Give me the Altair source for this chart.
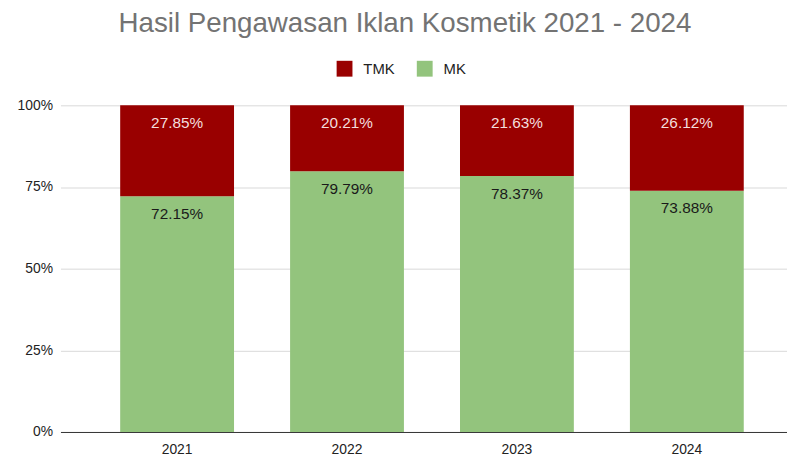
import altair as alt
import pandas as pd

years = ["2021", "2022", "2023", "2024"]
mk = [0.7215, 0.7979, 0.7837, 0.7388]
tmk = [0.2785, 0.2021, 0.2163, 0.2612]
series = ["TMK", "MK"]
colors = ["#990000", "#93c47d"]

rows = []
for i, y in enumerate(years):
    rows.append({"year": y, "cat": "MK", "value": mk[i], "ord": 0})
    rows.append({"year": y, "cat": "TMK", "value": tmk[i], "ord": 1})
df = pd.DataFrame(rows)

FONT = "Liberation Sans"

base = alt.Chart(df).transform_stack(
    stack="value", groupby=["year"], as_=["v0", "v1"], sort=[alt.SortField("ord", order="ascending")]
)

xscale = alt.Scale(paddingInner=0.33, paddingOuter=0.303, align=0.58)

bars = base.mark_bar().encode(
    x=alt.X("year:N", title=None, sort=years, scale=xscale,
            axis=alt.Axis(labelAngle=0, ticks=False, domain=True, domainColor="#333333",
                          labelFontSize=14, labelColor="#222222", labelPadding=11, labelFont=FONT)),
    y=alt.Y("v0:Q", title=None, scale=alt.Scale(domain=[0, 1], nice=False),
            axis=alt.Axis(format=".0%", values=[0, 0.25, 0.5, 0.75, 1], ticks=False, domain=False,
                          gridColor="#d9d9d9", labelFontSize=14, labelColor="#222222",
                          labelPadding=8, labelFont=FONT)),
    y2="v1:Q",
    color=alt.Color("cat:N", scale=alt.Scale(domain=series, range=colors), title=None,
                    legend=alt.Legend(orient="none", legendX=279, legendY=-45, direction="horizontal",
                                      symbolType="square", symbolSize=256, symbolStrokeWidth=0,
                                      labelFontSize=15, labelFont=FONT, labelColor="#222222",
                                      labelOffset=11, columnPadding=22, symbolOpacity=1)),
)

labels = base.mark_text(baseline="middle", dy=18, fontSize=15.5, font=FONT).encode(
    x=alt.X("year:N", sort=years, scale=xscale),
    y=alt.Y("v1:Q"),
    text=alt.Text("value:Q", format=".2%"),
    color=alt.Color("cat:N", scale=alt.Scale(domain=series, range=["#f3dede", "#1a1a1a"]), legend=None),
)

chart = alt.layer(bars, labels).resolve_scale(color="independent").properties(
    width=734, height=330,
    autosize=alt.AutoSizeParams(type="none"),
    padding={"left": 53, "top": 96, "right": 0, "bottom": 30},
    title=alt.TitleParams("Hasil Pengawasan Iklan Kosmetik 2021 - 2024", fontSize=28, font=FONT,
                          fontWeight="normal", color="#737373", anchor="middle", offset=23, dx=-19),
).configure_view(stroke=None)

chart.save("out.html", embed_options={"renderer": "svg", "actions": False})
